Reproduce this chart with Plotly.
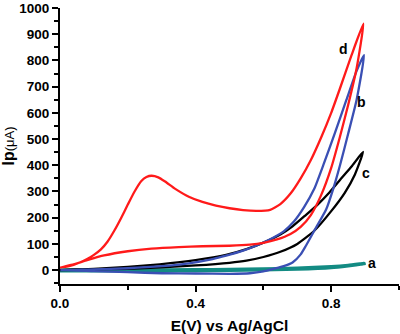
import plotly.graph_objects as go

# ---- data ----
# curve a (teal)
a_x = [0.0, 0.2, 0.4, 0.5, 0.6, 0.7, 0.8, 0.85, 0.897, 0.85, 0.8, 0.7, 0.5, 0.3, 0.0]
a_y = [0, 0, 1, 2, 4, 7, 13, 18, 25, 17, 10, 4, -1, -2, -2]

# curve b (blue)
b_x = [0.0, 0.1, 0.2, 0.3, 0.4, 0.5, 0.56, 0.6, 0.627, 0.66, 0.686, 0.71, 0.725, 0.75, 0.785,
       0.806, 0.826, 0.85, 0.875, 0.897,
       0.875, 0.845, 0.81, 0.778, 0.75, 0.72, 0.69, 0.66, 0.62, 0.58, 0.54, 0.49, 0.45, 0.38,
       0.3, 0.2, 0.1, 0.0]
b_y = [0, -4, -8, -12, -13, -14, -12, -5, 4, 15, 29, 60, 92, 150, 231,
       310, 400, 520, 650, 820,
       760, 650, 520, 405, 310, 240, 185, 148, 118, 94, 74, 55, 42, 26,
       15, 7, 3, 0]

# curve c (black)
c_x = [0.0, 0.1, 0.2, 0.3, 0.4, 0.5, 0.55, 0.6, 0.65, 0.7, 0.75, 0.8, 0.84, 0.87, 0.894,
       0.86, 0.83, 0.794, 0.76, 0.725, 0.686, 0.65, 0.6, 0.55, 0.49, 0.4, 0.294, 0.2, 0.1, 0.0]
c_y = [0, 2, 5, 11, 18, 28, 36, 50, 70, 100, 150, 225, 295, 365, 451,
       395, 350, 295, 250, 210, 167, 136, 105, 80, 58, 38, 22, 12, 5, 0]

# curve d (red)
d_x = [0.0, 0.04, 0.08, 0.13, 0.2, 0.27, 0.35, 0.42, 0.5, 0.56, 0.6, 0.64, 0.68, 0.71, 0.74,
       0.77, 0.80, 0.825, 0.85, 0.875, 0.895,
       0.86, 0.825, 0.80, 0.77, 0.74, 0.71, 0.68, 0.65, 0.62, 0.58, 0.54, 0.50, 0.46, 0.42,
       0.38, 0.34, 0.31, 0.29, 0.27, 0.255, 0.24, 0.22, 0.20, 0.18, 0.16, 0.14, 0.12, 0.10,
       0.08, 0.06, 0.04, 0.02, 0.0]
d_y = [10, 22, 38, 56, 72, 82, 88, 91, 93, 97, 104, 117, 138, 165, 210,
       285, 390, 505, 630, 770, 940,
       820, 690, 600, 505, 420, 350, 292, 252, 230, 226, 229, 236, 246, 260,
       280, 310, 338, 354, 360, 355, 340, 300, 250, 198, 150, 108, 78, 58,
       42, 30, 20, 13, 10]

labels = ["a", "b", "c", "d"]
label_x = [0.92, 0.89, 0.902, 0.835]
label_y = [29, 640, 370, 844]

x_ticks = [0.0, 0.4, 0.8]
x_tick_text = ["0.0", "0.4", "0.8"]

FONT = "Arial, 'Liberation Sans', sans-serif"
SM = 0.5

fig = go.Figure()
fig.add_trace(go.Scatter(x=a_x, y=a_y, mode="lines", line=dict(color="#138b83", width=3.5, shape="spline", smoothing=SM)))
fig.add_trace(go.Scatter(x=c_x, y=c_y, mode="lines", line=dict(color="#000000", width=2.3, shape="spline", smoothing=SM)))
fig.add_trace(go.Scatter(x=b_x, y=b_y, mode="lines", line=dict(color="#3a4fb4", width=2.3, shape="spline", smoothing=SM)))
fig.add_trace(go.Scatter(x=d_x, y=d_y, mode="lines", line=dict(color="#ff1a1a", width=2.3, shape="spline", smoothing=SM)))

for t, lx, ly in zip(labels, label_x, label_y):
    fig.add_annotation(x=lx, y=ly, text="<b>%s</b>" % t, showarrow=False,
                       font=dict(family=FONT, size=14, color="black"))

fig.update_layout(
    width=400, height=334,
    margin=dict(l=60, r=1, t=7, b=49),
    paper_bgcolor="white", plot_bgcolor="white",
    showlegend=False,
    font=dict(family=FONT, color="black"),
)
fig.update_xaxes(
    range=[0, 1.0], showgrid=False, zeroline=False,
    showline=True, linecolor="black", linewidth=2,
    tickvals=x_ticks, ticktext=["<b>%s</b>" % s for s in x_tick_text],
    ticks="outside", ticklen=6, tickwidth=2, tickcolor="black",
    tickfont=dict(family=FONT, size=13.5, color="black"),
    ticklabeloverflow="allow",
    minor=dict(tickvals=[0.2, 0.6, 1.0], ticks="outside", ticklen=4, tickwidth=2, tickcolor="black"),
    title=dict(text="<b>E(V) vs Ag/AgCl</b>", font=dict(family=FONT, size=15.5, color="black"), standoff=11),
)
fig.update_yaxes(
    range=[-53, 1000], showgrid=False, zeroline=False,
    showline=True, linecolor="black", linewidth=2,
    tick0=0, dtick=100, tickformat="d",
    ticks="outside", ticklen=6, tickwidth=2, tickcolor="black",
    tickfont=dict(family=FONT, size=13.5, color="black", weight="bold"),
    ticklabeloverflow="allow",
    minor=dict(dtick=50, ticks="outside", ticklen=4, tickwidth=2, tickcolor="black"),
    title=dict(text="<b>Ip</b><span style='font-size:13px'>(μA)</span>",
               font=dict(family=FONT, size=16, color="black"), standoff=6),
)

fig.write_html("out.html")
